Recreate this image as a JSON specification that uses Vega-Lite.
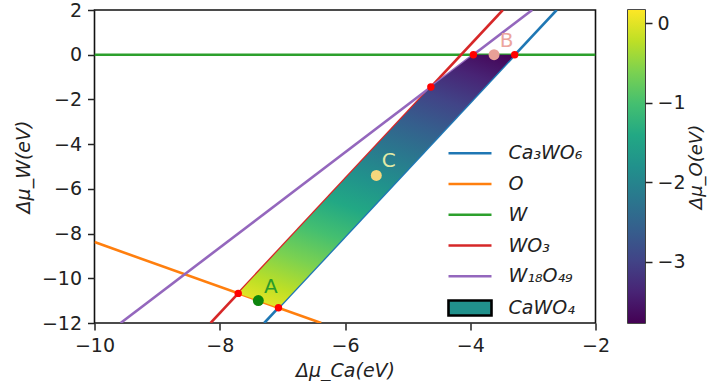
{
  "$schema": "https://vega.github.io/schema/vega-lite/v6.json",
  "background": "white",
  "padding": {"left": 13.5, "top": 0, "right": 0, "bottom": 0},
  "config": {
    "view": {"stroke": "#111", "strokeWidth": 1.6},
    "font": "DejaVu Sans",
    "axis": {
      "labelFont": "DejaVu Sans", "labelFontSize": 19, "labelColor": "#222",
      "titleFont": "DejaVu Sans", "titleFontSize": 19, "titleFontWeight": "normal",
      "titleFontStyle": "italic", "titleColor": "#222",
      "tickColor": "#222", "tickSize": 7, "tickWidth": 1.5,
      "domain": false, "grid": false, "labelPadding": 6,
      "labelFlush": false, "labelOverlap": false
    }
  },
  "datasets": {
    "lines": [
      {"name": "Ca₃WO₆", "Ca": -7.29, "W": -12}, {"name": "Ca₃WO₆", "Ca": -2.62, "W": 2},
      {"name": "O", "Ca": -10, "W": -8.38}, {"name": "O", "Ca": -6.38, "W": -12},
      {"name": "W", "Ca": -10, "W": 0}, {"name": "W", "Ca": -2, "W": 0},
      {"name": "WO₃", "Ca": -8.147, "W": -12}, {"name": "WO₃", "Ca": -3.48, "W": 2},
      {"name": "W₁₈O₄₉", "Ca": -9.583, "W": -12}, {"name": "W₁₈O₄₉", "Ca": -3.011, "W": 2}
    ],
    "region": [
      {"Ca": -7.705, "W": -10.675, "W2": -10.675},
      {"Ca": -7.0625, "W": -8.7475, "W2": -11.3175},
      {"Ca": -4.629, "W": -1.446, "W2": -4.016},
      {"Ca": -3.95, "W": 0, "W2": -1.98},
      {"Ca": -3.29, "W": 0, "W2": 0}
    ],
    "vertices": [
      {"Ca": -7.705, "W": -10.675},
      {"Ca": -7.0625, "W": -11.3175},
      {"Ca": -4.629, "W": -1.446},
      {"Ca": -3.95, "W": 0},
      {"Ca": -3.29, "W": 0}
    ],
    "marks": [
      {"label": "A", "Ca": -7.384, "W": -10.996},
      {"label": "B", "Ca": -3.62, "W": 0},
      {"label": "C", "Ca": -5.5, "W": -5.4}
    ],
    "cbar": [{"lo": -3.7725, "hi": 0.167}]
  },
  "spacing": 32.5,
  "bounds": "flush",
  "hconcat": [
    {
      "width": 501,
      "height": 313,
      "encoding": {
        "x": {"field": "Ca", "type": "quantitative",
          "scale": {"domain": [-10, -2], "nice": false, "zero": false},
          "axis": {"values": [-10, -8, -6, -4, -2], "title": "Δμ_Ca(eV)", "titlePadding": 6}},
        "y": {"field": "W", "type": "quantitative",
          "scale": {"domain": [-12, 2], "nice": false, "zero": false},
          "axis": {"values": [-12, -10, -8, -6, -4, -2, 0, 2], "title": "Δμ_W(eV)", "titlePadding": 8}}
      },
      "resolve": {"scale": {"fill": "independent"}},
      "layer": [
        {
          "data": {"name": "lines"},
          "mark": {"type": "line", "strokeWidth": 2.6, "clip": true},
          "encoding": {
            "color": {"field": "name", "type": "nominal",
              "scale": {"domain": ["Ca₃WO₆", "O", "W", "WO₃", "W₁₈O₄₉", "CaWO₄"],
                        "range": ["#1f77b4", "#ff7f0e", "#2ca02c", "#d62728", "#9467bd", "#000000"]},
              "legend": {
                "orient": "none", "legendX": 363, "legendY": 130.8, "title": null,
                "padding": 0, "rowPadding": 7.75,
                "labelFont": "DejaVu Sans", "labelFontSize": 19, "labelFontStyle": "italic",
                "labelColor": "#222", "labelOffset": 26,
                "symbolSize": 462, "symbolType": "M-2,0H2", "symbolStrokeWidth": 2.6,
                "encode": {
                  "symbols": {
                    "update": {
                      "shape": [{"test": "datum.value === 'CaWO₄'", "value": "M-2,-0.7H2V0.7H-2Z"}, {"value": "M-2,0H2"}],
                      "fill": [{"test": "datum.value === 'CaWO₄'", "value": "#21918c"}, {"value": "transparent"}],
                      "strokeWidth": {"value": 2.6},
                      "opacity": {"value": 1}
                    }
                  }
                }
              }
            }
          }
        },
        {
          "data": {"name": "region"},
          "mark": {
            "type": "area", "clip": true, "interpolate": "linear",
            "fill": {
              "gradient": "linear", "x1": 1, "y1": 0, "x2": 0.5286, "y2": 1.2085,
              "stops": [
                {"offset": 0, "color": "#440154"},
                {"offset": 0.1, "color": "#482475"},
                {"offset": 0.2, "color": "#414487"},
                {"offset": 0.3, "color": "#355f8d"},
                {"offset": 0.4, "color": "#2a788e"},
                {"offset": 0.5, "color": "#21918c"},
                {"offset": 0.6, "color": "#22a884"},
                {"offset": 0.7, "color": "#44bf70"},
                {"offset": 0.8, "color": "#7ad151"},
                {"offset": 0.9, "color": "#bddf26"},
                {"offset": 1, "color": "#fde725"}
              ]
            }
          },
          "encoding": {"y2": {"field": "W2"}}
        },
        {
          "data": {"name": "vertices"},
          "mark": {"type": "circle", "size": 55, "color": "#ff0000", "opacity": 1}
        },
        {
          "data": {"name": "marks"},
          "mark": {"type": "circle", "size": 120, "opacity": 1},
          "encoding": {
            "fill": {"field": "label", "type": "nominal",
              "scale": {"domain": ["A", "B", "C"], "range": ["#0d850d", "#e8a097", "#f6d77c"]},
              "legend": null}
          }
        },
        {
          "data": {"name": "marks"},
          "mark": {"type": "text", "fontSize": 20, "font": "DejaVu Sans", "dx": 12.5, "dy": -14, "align": "center", "baseline": "middle"},
          "encoding": {
            "text": {"field": "label"},
            "fill": {"field": "label", "type": "nominal",
              "scale": {"domain": ["A", "B", "C"], "range": ["#2b9a2b", "#eca59d", "#e2eaa6"]},
              "legend": null}
          }
        }
      ]
    },
    {
      "width": 17,
      "height": 313,
      "data": {"name": "cbar"},
      "mark": {
        "type": "rect",
        "fill": {
          "gradient": "linear", "x1": 0, "y1": 1, "x2": 0, "y2": 0,
          "stops": [
            {"offset": 0, "color": "#440154"},
            {"offset": 0.1, "color": "#482475"},
            {"offset": 0.2, "color": "#414487"},
            {"offset": 0.3, "color": "#355f8d"},
            {"offset": 0.4, "color": "#2a788e"},
            {"offset": 0.5, "color": "#21918c"},
            {"offset": 0.6, "color": "#22a884"},
            {"offset": 0.7, "color": "#44bf70"},
            {"offset": 0.8, "color": "#7ad151"},
            {"offset": 0.9, "color": "#bddf26"},
            {"offset": 1, "color": "#fde725"}
          ]
        }
      },
      "encoding": {
        "y": {"field": "lo", "type": "quantitative",
          "scale": {"domain": [-3.7725, 0.167], "nice": false, "zero": false},
          "axis": {"orient": "right", "values": [-3, -2, -1, 0], "title": "Δμ_O(eV)",
                   "titleAngle": -90, "titleBaseline": "top", "titlePadding": 2, "titleFontSize": 18, "labelPadding": 5}},
        "y2": {"field": "hi"}
      }
    }
  ]
}
